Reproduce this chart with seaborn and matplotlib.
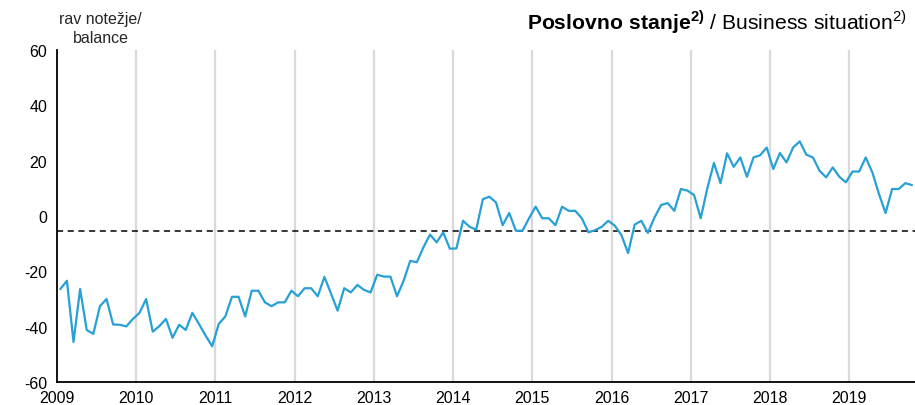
import numpy as np
import pandas as pd
import matplotlib
matplotlib.use("Agg")
import matplotlib.pyplot as plt
import seaborn as sns

# monthly balance values, Jan 2009 - Oct 2019
v2009 = [-26.4, -23.4, -45.5, -26.4, -41.2, -42.6, -32.6, -30.0, -39.2, -39.3, -39.9, -37.2]
v2010 = [-35.0, -30.0, -41.8, -39.8, -37.2, -44.0, -39.3, -41.2, -35.0, -39.0, -43.2, -47.1]
v2011 = [-39.0, -36.3, -29.2, -29.2, -36.3, -27.0, -27.0, -31.2, -32.6, -31.2, -31.2, -27.0]
v2012 = [-29.0, -26.1, -26.1, -29.0, -22.0, -28.0, -34.2, -26.1, -27.6, -24.9, -26.7, -27.6]
v2013 = [-21.2, -21.9, -21.9, -29.0, -23.4, -16.2, -16.7, -11.3, -6.7, -9.5, -5.9, -11.8]
v2014 = [-11.7, -1.7, -3.9, -4.9, 6.1, 7.0, 4.9, -3.3, 1.1, -5.3, -5.3, -0.8]
v2015 = [3.4, -0.8, -0.8, -3.3, 3.4, 1.9, 1.9, -0.8, -5.9, -5.1, -3.9, -1.7]
v2016 = [-3.5, -6.9, -13.4, -3.1, -1.7, -6.1, -0.5, 4.0, 4.7, 1.9, 9.8, 9.2]
v2017 = [7.6, -0.8, 10.0, 19.2, 11.9, 22.7, 17.8, 21.2, 14.2, 21.2, 22.0, 24.8]
v2018 = [17.0, 22.8, 19.4, 24.8, 27.0, 22.2, 21.2, 16.4, 14.0, 17.6, 14.2, 12.2]
v2019 = [16.1, 16.1, 21.2, 15.8, 8.0, 1.1, 9.8, 9.8, 11.9, 11.2]

avg_line = -5.3
years = list(range(2009, 2020))
yticks = [-60, -40, -20, 0, 20, 40, 60]

vals = v2009 + v2010 + v2011 + v2012 + v2013 + v2014 + v2015 + v2016 + v2017 + v2018 + v2019
df = pd.DataFrame({"t": 2009 + (np.arange(len(vals)) + 0.5) / 12, "val": vals})

sns.set_style("white")
plt.rcParams["font.family"] = ["Liberation Sans", "DejaVu Sans"]
plt.rcParams["mathtext.fontset"] = "custom"
plt.rcParams["mathtext.rm"] = "Liberation Sans"
plt.rcParams["mathtext.bf"] = "Liberation Sans:bold"

fig = plt.figure(figsize=(9.15, 4.06), dpi=100)
ax = fig.add_axes([0.0623, 0.0567, 0.9377, 0.8173])

for y in years[1:]:
    ax.axvline(y, color="#d9d9d9", lw=1.6, zorder=0)

ax.axhline(avg_line, color="black", lw=1.1, ls=(0, (4, 3)), zorder=2)
sns.lineplot(data=df, x="t", y="val", color="#27a0d6", lw=1.6, ax=ax, zorder=3)

ax.set_xlim(2009, 2019.83)
ax.set_ylim(-60, 60)
ax.set_xticks(years)
ax.set_xticklabels([str(y) for y in years])
ax.set_yticks(yticks)
ax.set_yticklabels([str(y) for y in yticks])
ax.set_xlabel("")
ax.set_ylabel("")

for s in ["top", "right"]:
    ax.spines[s].set_visible(False)
for s in ["left", "bottom"]:
    ax.spines[s].set_color("black")
    ax.spines[s].set_linewidth(1.3)

ax.tick_params(axis="both", direction="out", length=4, width=1.2, color="black",
               labelsize=11.5, pad=2, labelcolor="black")
ax.tick_params(axis="y", pad=3)

fig.text(0.11, 0.928, "rav notežje/\nbalance", ha="center", va="center",
         fontsize=11.5, linespacing=1.3)
fig.text(0.991, 0.927, r"$\mathbf{Poslovno\ stanje}^{\mathbf{2)}}$ / Business situation$^{2)}$",
         ha="right", va="baseline", fontsize=15.2, color="black")

fig.savefig("out.png", dpi=100)
